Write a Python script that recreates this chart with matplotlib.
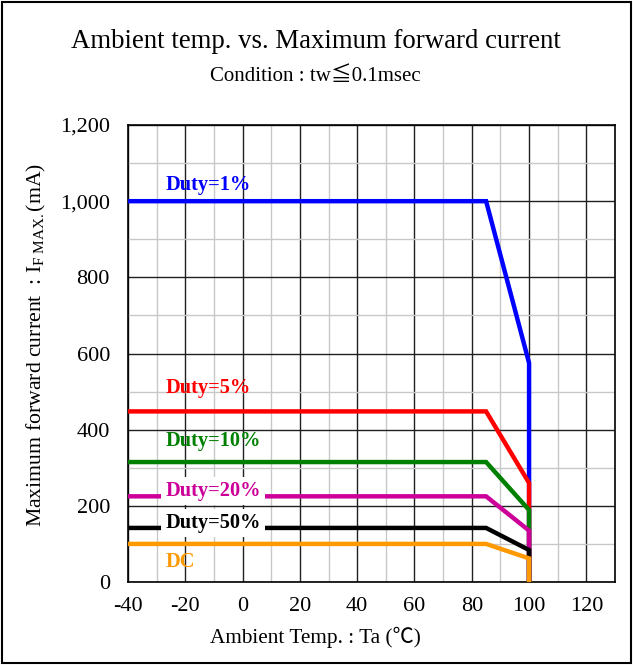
import matplotlib
matplotlib.use("Agg")
import matplotlib.pyplot as plt
from matplotlib.patches import Rectangle
from matplotlib.ticker import MultipleLocator, FuncFormatter

plt.rcParams['font.family'] = ['Liberation Serif', 'Noto Sans CJK JP', 'DejaVu Sans']
plt.rcParams['mathtext.fontset'] = 'custom'
plt.rcParams['mathtext.rm'] = 'Liberation Serif'
plt.rcParams['mathtext.it'] = 'Liberation Serif:italic'
plt.rcParams['mathtext.bf'] = 'Liberation Serif:bold'
plt.rcParams['axes.unicode_minus'] = False

# Data
temps = [-40, 85, 100, 100]
series_names = ["Duty=1%", "Duty=5%", "Duty=10%", "Duty=20%", "Duty=50%", "DC"]
series_values = [
    [1000, 1000, 575, 0],
    [448, 448, 260, 0],
    [315, 315, 189, 0],
    [225, 225, 135, 0],
    [142, 142, 84, 0],
    [100, 100, 62, 0],
]
colors = ["#0000FF", "#FF0000", "#008000", "#CC0099", "#000000", "#FF9900"]
label_pos = [(-27, 1042), (-27, 509), (-27, 370), (-27, 239), (-27, 155), (-27, 52)]
label_box = [False, False, False, True, True, False]

fig = plt.figure(figsize=(6.33, 6.65), dpi=100)
ax = fig.add_axes([0.2022, 0.1248, 0.9716 - 0.2022, 0.812 - 0.1248])

ax.set_xlim(-40, 130)
ax.set_ylim(0, 1200)
ax.xaxis.set_major_locator(MultipleLocator(20))
ax.xaxis.set_minor_locator(MultipleLocator(10))
ax.yaxis.set_major_locator(MultipleLocator(200))
ax.yaxis.set_minor_locator(MultipleLocator(100))
ax.grid(which='minor', color='#c8c8c8', lw=1.0)
ax.grid(which='major', color='#202020', lw=1.0)
ax.set_axisbelow(True)
ax.tick_params(which='both', length=0)
ax.tick_params(axis='y', pad=13, labelsize=16)
ax.tick_params(axis='x', pad=11, labelsize=16)
ax.yaxis.set_major_formatter(FuncFormatter(lambda v, p: f"{int(v):,}"))
ax.set_xticks([-40, -20, 0, 20, 40, 60, 80, 100, 120])
for s in ax.spines.values():
    s.set_color('black')
    s.set_linewidth(1.2)

for vals, c in zip(series_values, colors):
    ax.plot(temps, vals, color=c, lw=3.2, solid_joinstyle='miter', zorder=3)

for name, c, (lx, ly), box in zip(series_names, colors, label_pos, label_box):
    kw = {}
    if box:
        kw['bbox'] = dict(facecolor='white', edgecolor='none', pad=3)
    ax.text(lx, ly, name, color=c, fontsize=14.7, fontweight='bold',
            ha='left', va='center', zorder=5, **kw)

fig.text(0.4984, 1 - 637 / 665, "Ambient Temp. : Ta (℃)", ha='center', va='center', fontsize=15.3)
fig.text(36 / 633, 1 - 345 / 665, r"Maximum forward current  : I$_{\mathrm{F\ MAX.}}$(mA)",
         ha='center', va='center', rotation=90, fontsize=15.7)

fig.text(0.4984, 1 - 42 / 665, "Ambient temp. vs. Maximum forward current", ha='center', va='center', fontsize=19.3)
fig.text(0.4984, 1 - 76 / 665, "Condition : tw≦0.1msec", ha='center', va='center', fontsize=15)

fig.patches.append(Rectangle((0.003, 0.003), 0.994, 0.994, transform=fig.transFigure,
                             fill=False, edgecolor='black', lw=1.5))

fig.savefig("out.png", dpi=100)
